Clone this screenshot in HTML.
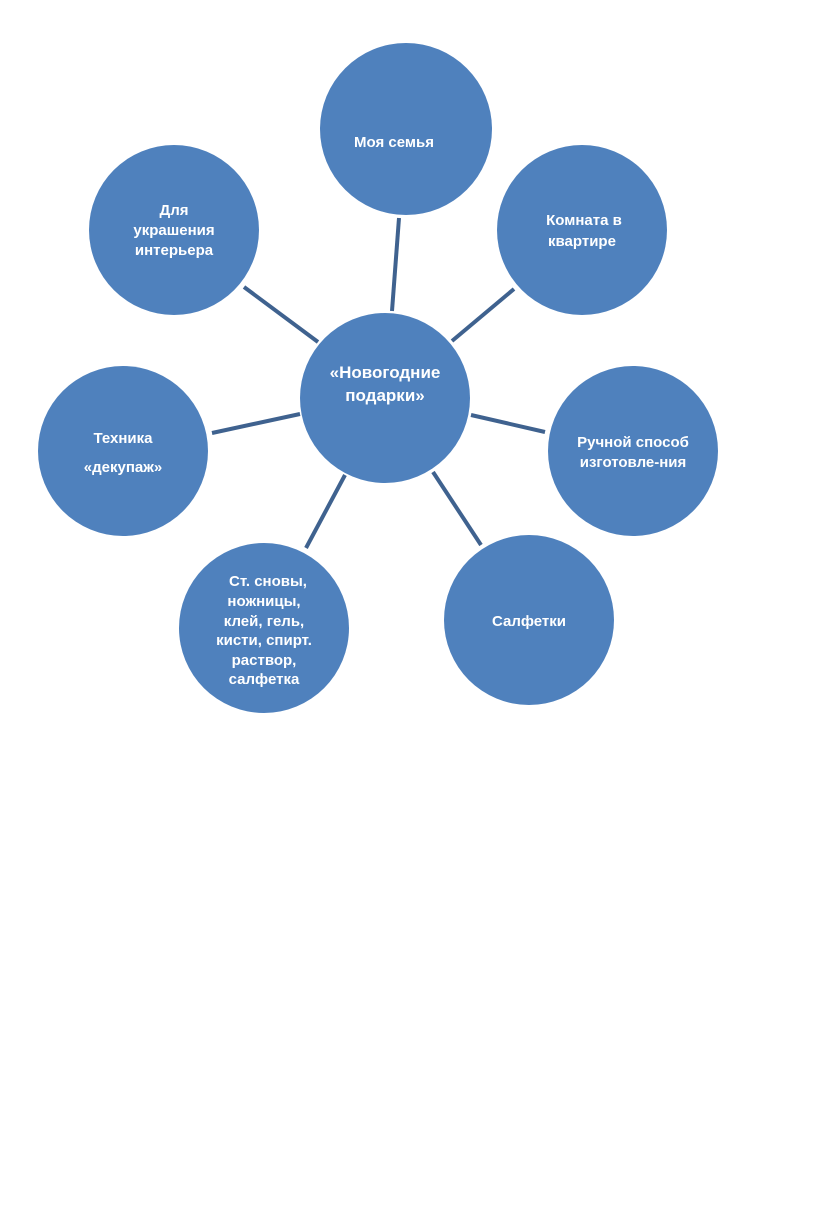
<!DOCTYPE html>
<html><head><meta charset="utf-8"><style>
body{margin:0;background:#fff;width:816px;height:1226px;overflow:hidden}
svg text{font-family:"Liberation Sans","DejaVu Sans",sans-serif;font-weight:bold;fill:#fff;font-size:15px;text-anchor:middle}
</style></head><body>
<svg width="816" height="1226" xmlns="http://www.w3.org/2000/svg">
<g stroke="#3f628f" stroke-width="4">
<line x1="399" y1="218" x2="392" y2="311"/>
<line x1="514" y1="289" x2="452" y2="341"/>
<line x1="471" y1="415" x2="545" y2="432"/>
<line x1="433" y1="472" x2="481" y2="545"/>
<line x1="345" y1="475" x2="306" y2="548"/>
<line x1="300" y1="414" x2="212" y2="433"/>
<line x1="244" y1="287" x2="318" y2="342"/>
</g>
<g fill="#4f81bd">
<circle cx="385" cy="398" r="85"/>
<circle cx="406" cy="129" r="86"/>
<circle cx="582" cy="230" r="85"/>
<circle cx="633" cy="451" r="85"/>
<circle cx="529" cy="620" r="85"/>
<circle cx="264" cy="628" r="85"/>
<circle cx="123" cy="451" r="85"/>
<circle cx="174" cy="230" r="85"/>
</g>
<text x="385" y="378" style="font-size:17px">«Новогодние</text>
<text x="385" y="401" style="font-size:17px">подарки»</text>
<text x="394" y="147">Моя семья</text>
<text x="584" y="225">Комната в</text>
<text x="582" y="246">квартире</text>
<text x="633" y="447">Ручной способ</text>
<text x="633" y="467">изготовле-ния</text>
<text x="529" y="626">Салфетки</text>
<text x="268" y="586">Ст. сновы,</text>
<text x="264" y="606">ножницы,</text>
<text x="264" y="626">клей, гель,</text>
<text x="264" y="645">кисти, спирт.</text>
<text x="264" y="665">раствор,</text>
<text x="264" y="684">салфетка</text>
<text x="123" y="443">Техника</text>
<text x="123" y="472">«декупаж»</text>
<text x="174" y="215">Для</text>
<text x="174" y="235">украшения</text>
<text x="174" y="255">интерьера</text>
</svg>
</body></html>
